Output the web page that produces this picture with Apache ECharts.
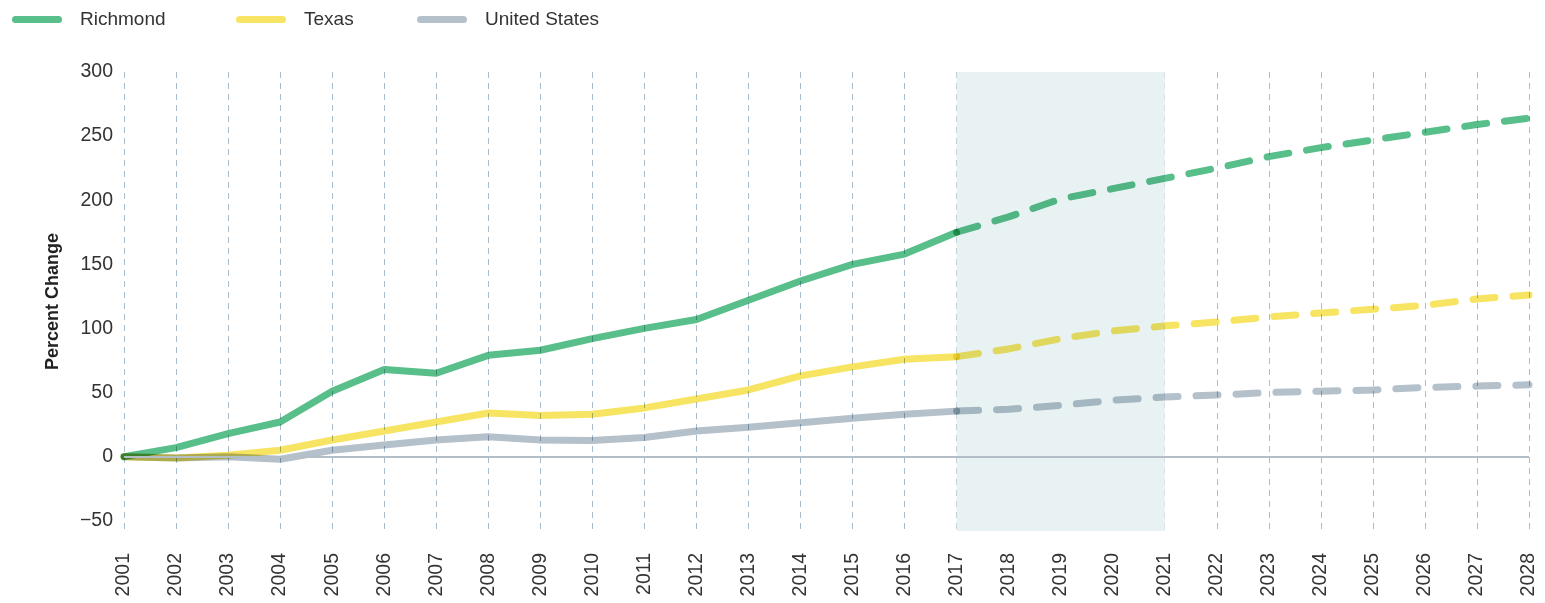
<!DOCTYPE html>
<html>
<head>
<meta charset="utf-8">
<script src="https://cdn.jsdelivr.net/npm/echarts@6/dist/echarts.min.js"></script>
<style>
html,body{margin:0;padding:0;background:#fff;}
#chart{width:1545px;height:603px;}
</style>
</head>
<body>
<div id="chart"></div>
<script>
const years = ['2001','2002','2003','2004','2005','2006','2007','2008','2009','2010','2011','2012','2013','2014','2015','2016','2017','2018','2019','2020','2021','2022','2023','2024','2025','2026','2027','2028'];
// Historical (2001-2017) and projected (2017-2028) values
const richmondHist = [0,7,18,27,51,68,65,79,83,92,100,107,122,137,150,158,175];
const richmondProj = [175,187,201,209,217,225,234,241,247,253,259,264];
const texasHist = [0,-1,1,5,13,20,27,34,32,33,38,45,52,63,70,76,78];
const texasProj = [78,84,92,98,102,105,109,112,115,118,123,126];
const usHist = [0,-1,0,-2,5,9,13,15.5,13,12.5,15,20,23,26.5,30,33,35.5];
const usProj = [35.5,37,40,44,46.5,48,50,51,52,54,55,56];
const yTicks = [-50,0,50,100,150,200,250,300];
const shadeRange = ['2017','2021'];

const projStart = years.indexOf('2017');

function histData(arr){ return years.map((y,i)=> i < arr.length ? arr[i] : null); }
function projData(arr){ return years.map((y,i)=> i >= projStart ? arr[i-projStart] : null); }

const colors = {Richmond:'#58be8a', Texas:'#f7e462', 'United States':'#b4c0ca'};
const FONT = '"Liberation Sans", Arial, sans-serif';

function lineSeries(name, data, dashed){
  return {
    name: name, type: 'line', data: data, showSymbol: false, symbol: 'none',
    z: 3, blendMode: 'multiply', connectNulls: false, silent: true,
    itemStyle: {color: colors[name]},
    lineStyle: {color: colors[name], width: 7, cap: 'round', join: 'round',
      type: dashed ? [22, 18] : 'solid'}
  };
}

const chart = echarts.init(document.getElementById('chart'), null, {renderer:'canvas'});
const legendIcon = 'path://M3.5,0 L46.5,0 A3.5,3.5 0 0 1 46.5,7 L3.5,7 A3.5,3.5 0 0 1 3.5,0 Z';
function legend(name, left){
  return {
    data: [name], left: left, top: 5, icon: legendIcon, itemWidth: 50, itemHeight: 7,
    selectedMode: false,
    textStyle: {fontFamily: FONT, fontSize: 19, color: '#333', padding: [0,0,0,13]}
  };
}

chart.setOption({
  animation: false,
  legend: [legend('Richmond', 7), legend('Texas', 231), legend('United States', 412)],
  grid: {left: 124, right: 16, top: 72, bottom: 72},
  xAxis: {
    type: 'category', data: years, boundaryGap: false,
    axisLine: {show: false}, axisTick: {show: false},
    axisLabel: {rotate: 90, margin: 22, fontFamily: FONT, fontSize: 19.5, color: '#333'},
    splitLine: {show: true, lineStyle: {color: '#a9bccb', type: [6,5], width: 1}}
  },
  yAxis: {
    type: 'value', min: -58, max: 300,
    name: 'Percent Change', nameLocation: 'middle', nameGap: 62, nameRotate: 90,
    nameTextStyle: {fontFamily: FONT, fontSize: 18, fontWeight: 'bold', color: '#222'},
    axisLine: {show: false}, axisTick: {show: false},
    splitLine: {show: false},
    axisLabel: {customValues: yTicks, margin: 11, fontFamily: FONT, fontSize: 19.5, color: '#333',
      formatter: v => String(v).replace('-', '\u2212')}
  },
  series: [
    {
      name: 'base', type: 'line', data: [], z: 1, silent: true,
      markArea: {silent: true, itemStyle: {color: '#e8f2f3'},
        data: [[{xAxis: shadeRange[0]}, {xAxis: shadeRange[1]}]]},
      markLine: {silent: true, symbol: 'none', label: {show: false},
        lineStyle: {color: '#b3bec6', type: 'solid', width: 2},
        data: [{yAxis: 0}]}
    },
    lineSeries('United States', histData(usHist), false),
    lineSeries('United States', projData(usProj), true),
    lineSeries('Texas', histData(texasHist), false),
    lineSeries('Texas', projData(texasProj), true),
    lineSeries('Richmond', histData(richmondHist), false),
    lineSeries('Richmond', projData(richmondProj), true)
  ]
});
</script>
</body>
</html>
